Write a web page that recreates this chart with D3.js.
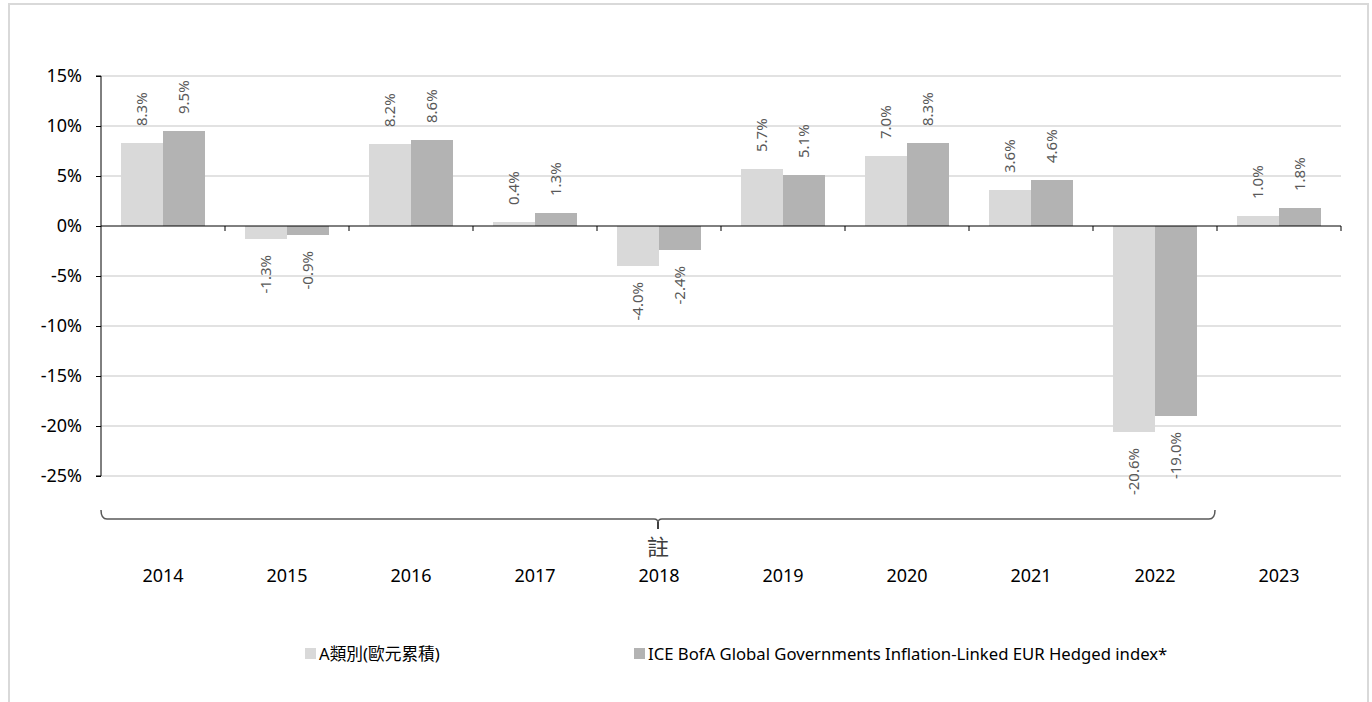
<!DOCTYPE html>
<html>
<head>
<meta charset="utf-8">
<script src="https://cdn.jsdelivr.net/npm/d3@7"></script>
<style>
    body { margin: 0; background: #fff; }
    text { font-family: "Noto Sans", "Noto Sans CJK TC", sans-serif; }
</style>
</head>
<body>
<div id="chart"></div>
<script>
// data
const years = ["2014", "2015", "2016", "2017", "2018", "2019", "2020", "2021", "2022", "2023"];
const seriesNames = ["A類別(歐元累積)", "ICE BofA Global Governments Inflation-Linked EUR Hedged index*"];
const classA = [8.3, -1.3, 8.2, 0.4, -4.0, 5.7, 7.0, 3.6, -20.6, 1.0];
const benchmark = [9.5, -0.9, 8.6, 1.3, -2.4, 5.1, 8.3, 4.6, -19.0, 1.8];
const yTicks = [15, 10, 5, 0, -5, -10, -15, -20, -25];
const noteLabel = "註";
const noteFrom = "2014", noteTo = "2022";

const colors = ["#d9d9d9", "#b3b3b3"];

let width = 1372, height = 702;
let margin = {top: 76, left: 101, right: 31, bottom: 226};

let svg = d3.select("#chart").append("svg")
    .attr("width", width)
    .attr("height", height);

// outer frame
svg.append("rect")
    .attr("x", 9).attr("y", 4)
    .attr("width", 1359).attr("height", 720)
    .attr("fill", "none")
    .attr("stroke", "#d9d9d9")
    .attr("stroke-width", 2);

let plotW = width - margin.left - margin.right;
let plotH = height - margin.top - margin.bottom;

let x0 = d3.scaleBand()
    .domain(years)
    .range([margin.left, margin.left + plotW])
    .paddingInner(40 / 124)
    .paddingOuter(20 / 124);

let x1 = d3.scaleBand()
    .domain([0, 1])
    .range([0, x0.bandwidth()]);

let y = d3.scaleLinear()
    .domain([-25, 15])
    .range([margin.top + plotH, margin.top]);

// gridlines
svg.append("g")
    .selectAll("line")
    .data(yTicks.filter(d => d !== 0))
    .enter()
    .append("line")
    .attr("x1", margin.left)
    .attr("x2", margin.left + plotW)
    .attr("y1", d => y(d))
    .attr("y2", d => y(d))
    .attr("stroke", "#d9d9d9")
    .attr("stroke-width", 1.5);

// y axis
let yAxis = d3.axisLeft(y)
    .tickValues(yTicks)
    .tickSize(5)
    .tickPadding(14)
    .tickFormat(d => d + "%");

let yG = svg.append("g")
    .attr("transform", "translate(" + margin.left + ",0)")
    .call(yAxis);
yG.select(".domain").attr("stroke", "#000").attr("d", "M-5," + y(15) + "H0V" + y(-25) + "H-5");
yG.selectAll(".tick line").attr("stroke", "#000");
yG.selectAll(".tick text")
    .attr("fill", "#000")
    .style("font-size", "18px");

// bars
let groups = svg.append("g")
    .selectAll("g")
    .data(years)
    .enter()
    .append("g")
    .attr("transform", d => "translate(" + x0(d) + ",0)");

let barData = (d, i) => [classA[i], benchmark[i]].map((v, k) => ({k: k, v: v}));

groups.selectAll("rect")
    .data(barData)
    .enter()
    .append("rect")
    .attr("x", d => x1(d.k))
    .attr("width", x1.bandwidth())
    .attr("y", d => y(Math.max(0, d.v)))
    .attr("height", d => Math.abs(y(d.v) - y(0)))
    .attr("fill", d => colors[d.k]);

// value labels
groups.selectAll("text")
    .data(barData)
    .enter()
    .append("text")
    .attr("transform", d => {
        let cx = x1(d.k) + x1.bandwidth() / 2;
        let yy = d.v >= 0 ? y(d.v) - 17 : y(d.v) + 16;
        return "translate(" + cx + "," + yy + ") rotate(-90)";
    })
    .attr("dy", "0.36em")
    .attr("text-anchor", d => d.v >= 0 ? "start" : "end")
    .attr("fill", "#595959")
    .style("font-size", "15px")
    .text(d => d.v.toFixed(1) + "%");

// zero axis with category ticks
let xAxis = d3.axisBottom(x0).tickSize(0).tickFormat("");
let xG = svg.append("g")
    .attr("transform", "translate(0," + y(0) + ")")
    .call(xAxis);
xG.select(".domain").attr("stroke", "#000").attr("d", "M" + margin.left + ",0H" + (margin.left + plotW));
xG.selectAll(".tick").remove();

let step = x0.step();
svg.append("g")
    .selectAll("line")
    .data(years)
    .enter()
    .append("line")
    .attr("x1", d => x0(d) - x0.paddingOuter() * step + step)
    .attr("x2", d => x0(d) - x0.paddingOuter() * step + step)
    .attr("y1", y(0))
    .attr("y2", y(0) + 5)
    .attr("stroke", "#000");

// category labels
svg.append("g")
    .selectAll("text")
    .data(years)
    .enter()
    .append("text")
    .attr("x", d => x0(d) + x0.bandwidth() / 2)
    .attr("y", 582)
    .attr("text-anchor", "middle")
    .attr("fill", "#000")
    .style("font-size", "18px")
    .text(d => d);

// brace note
let bx1 = x0(noteFrom) - x0.paddingOuter() * step;
let bx2 = x0(noteTo) - x0.paddingOuter() * step + step - 2;
let bm = (bx1 + bx2) / 2;
let by = 519;
svg.append("path")
    .attr("d", "M" + bx1 + "," + (by - 9) + "Q" + bx1 + "," + by + " " + (bx1 + 6) + "," + by +
        "H" + (bm - 4) + "Q" + bm + "," + by + " " + bm + "," + (by + 4) +
        "Q" + bm + "," + by + " " + (bm + 4) + "," + by +
        "H" + (bx2 - 6) + "Q" + bx2 + "," + by + " " + bx2 + "," + (by - 9))
    .attr("fill", "none")
    .attr("stroke", "#595959")
    .attr("stroke-width", 1.5);
svg.append("line")
    .attr("x1", bm).attr("x2", bm)
    .attr("y1", by + 3).attr("y2", by + 10)
    .attr("stroke", "#404040")
    .attr("stroke-width", 2);
svg.append("text")
    .attr("x", bm)
    .attr("y", 555)
    .attr("text-anchor", "middle")
    .attr("fill", "#404040")
    .style("font-size", "22px")
    .text(noteLabel);

// legend
let legendPos = [305, 634];
let legend = svg.append("g")
    .selectAll("g")
    .data(seriesNames)
    .enter()
    .append("g")
    .attr("transform", (d, i) => "translate(" + legendPos[i] + ",660)");

legend.append("rect")
    .attr("x", 0).attr("y", -12)
    .attr("width", 11).attr("height", 11)
    .attr("fill", (d, i) => colors[i]);

legend.append("text")
    .attr("x", 14)
    .attr("fill", "#000")
    .style("font-size", "16.7px")
    .text(d => d);
</script>
</body>
</html>
